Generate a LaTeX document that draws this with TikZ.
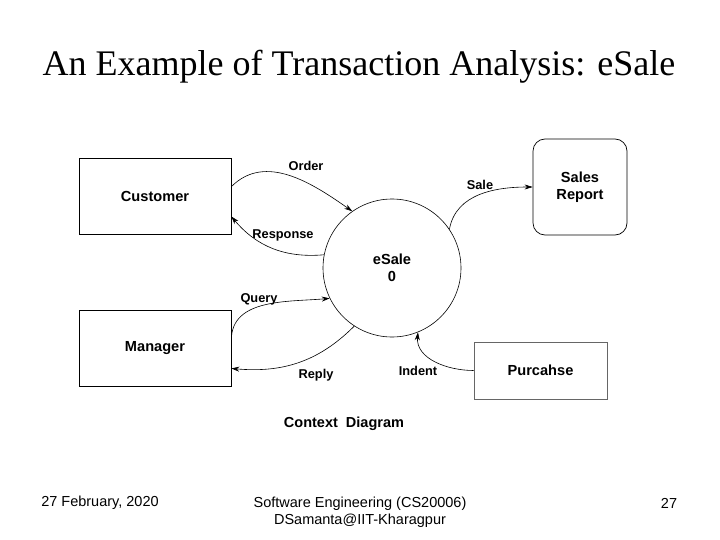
\documentclass[tikz,border=0pt]{standalone}
\usepackage{fontspec}
\setmainfont{Liberation Serif}
\setsansfont{Liberation Sans}
\usetikzlibrary{arrows.meta, positioning, shapes.geometric}

\begin{document}
\begin{tikzpicture}[
    x=1pt, y=-1pt,
    box/.style={draw, rectangle, line width=0.7pt, minimum width=152pt, minimum height=76pt, align=center, font=\sffamily\bfseries\fontsize{14.6}{17}\selectfont},
    proc/.style={draw, circle, line width=0.6pt, minimum size=138pt, align=center, font=\sffamily\bfseries\fontsize{14.6}{17}\selectfont},
    store/.style={draw, rectangle, rounded corners=12pt, line width=0.7pt, minimum width=94pt, minimum height=96pt, align=center, font=\sffamily\bfseries\fontsize{14.6}{17}\selectfont},
    flow/.style={line width=0.6pt, -{Stealth[length=8pt,width=5pt]}},
    flow_label/.style={font=\sffamily\bfseries\fontsize{12.8}{15}\selectfont},
    foot/.style={font=\sffamily\fontsize{14.5}{16.5}\selectfont, align=center}
]
\useasboundingbox (0,0) rectangle (720,540);

% Title
\node (title) at (359,67) {\fontsize{36}{42}\selectfont An Example of Transaction Analysis: eSale};

% External entities
\node[box] (customer) at (155,196) {Customer};
\node[box] (manager) at (155,348) {Manager};
\node[box, draw=black!60, minimum width=133pt, minimum height=57pt] (purchase) at (540.5,370.5) {Purcahse};

% Central process
\node[proc] (esale) at (392,268) {eSale\\0};

% Sales report
\node[store] (sales) at (580,187) {Sales\\Report};

% Flows
\draw[flow] (customer.7) to[out=45, in=145] (esale.125);
\draw[flow] (esale.169) to[out=185, in=-50] (customer.-15);
\draw[flow] (esale.34) to[out=80, in=180] (sales.west);
\draw[flow] (manager.6) to[out=90, in=185] (esale.206);
\draw[flow] (esale.237) to[out=225, in=-5] (manager.-15);
\draw[flow] (purchase.west) to[out=180, in=-95] (esale.-68);

% Flow labels
\node[flow_label] (lorder) at (306,166) {Order};
\node[flow_label] (lresponse) at (283,235) {Response};
\node[flow_label] (lsale) at (480,185) {Sale};
\node[flow_label] (lquery) at (259,299) {Query};
\node[flow_label] (lreply) at (316,375) {Reply};
\node[flow_label] (lindent) at (418,371) {Indent};

% Caption
\node[font=\sffamily\bfseries\fontsize{14.5}{17}\selectfont] (caption) at (344,424) {Context\ \ Diagram};

% Footer
\node[foot] (date) at (100,503) {27 February, 2020};
\node[foot] (course) at (360,512) {Software Engineering (CS20006)\\DSamanta@IIT-Kharagpur};
\node[foot] (page) at (669,503) {27};

\end{tikzpicture}
\end{document}
